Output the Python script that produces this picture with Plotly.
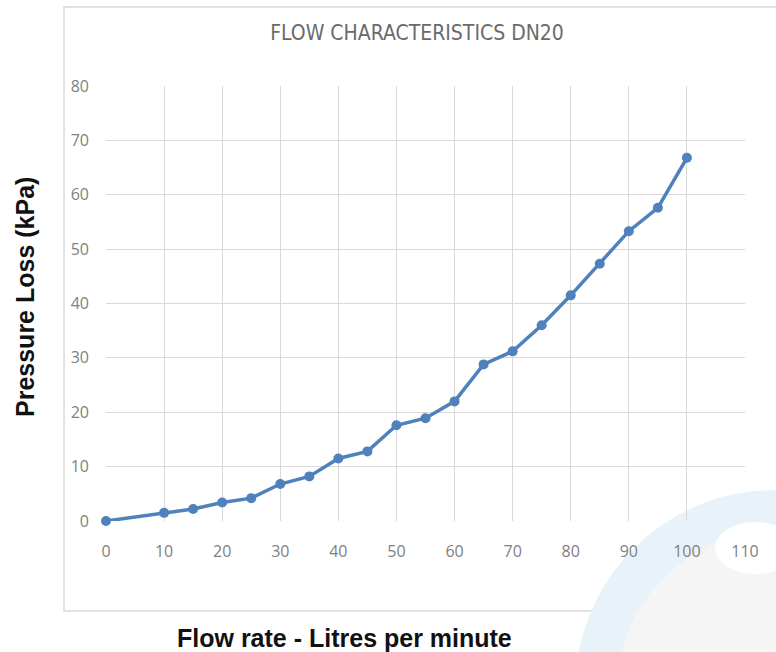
import plotly.graph_objects as go

flow = [0, 10, 15, 20, 25, 30, 35, 40, 45, 50, 55, 60, 65, 70, 75, 80, 85, 90, 95, 100]
pressure = [0, 1.5, 2.2, 3.4, 4.2, 6.8, 8.2, 11.5, 12.8, 17.6, 18.9, 22.0, 28.8, 31.2, 36.0, 41.5, 47.3, 53.3, 57.6, 66.8]
x_ticks = list(range(0, 111, 10))
y_ticks = list(range(0, 81, 10))

W, H = 776, 652
L, R, T, B = 106, 745, 86, 521

def px(x):
    return (x - L) / (R - L)

def py(y):
    return (B - y) / (B - T)

fig = go.Figure()
fig.add_trace(go.Scatter(
    x=flow, y=pressure, mode="lines+markers",
    line=dict(color="#4F81BD", width=3.5),
    marker=dict(color="#4F81BD", size=10),
    cliponaxis=False,
    showlegend=False,
))

shapes = [
    dict(type="rect", xref="paper", yref="paper", x0=px(64), x1=px(790), y0=py(611), y1=py(7),
         line=dict(color="#d9d9d9", width=1.5), fillcolor="rgba(0,0,0,0)", layer="below"),
    dict(type="circle", xref="paper", yref="paper", x0=px(775 - 200), x1=px(775 + 200),
         y0=py(690 + 200), y1=py(690 - 200), line=dict(width=0), fillcolor="#e8f3f9", layer="below"),
    dict(type="circle", xref="paper", yref="paper", x0=px(775 - 158), x1=px(775 + 158),
         y0=py(690 + 158), y1=py(690 - 158), line=dict(width=0), fillcolor="#f5f5f5", layer="below"),
    dict(type="circle", xref="paper", yref="paper", x0=px(755 - 40), x1=px(755 + 40),
         y0=py(548 + 26), y1=py(548 - 26), line=dict(width=0), fillcolor="#ffffff", layer="below"),
]

fig.update_layout(
    width=W, height=H,
    margin=dict(l=L, r=W - R, t=T, b=H - B, autoexpand=False),
    paper_bgcolor="white", plot_bgcolor="rgba(0,0,0,0)",
    title=dict(text="FLOW CHARACTERISTICS DN20", xref="container", x=417 / W, xanchor="center",
               yref="container", y=1 - 33 / H, yanchor="middle",
               font=dict(family="DejaVu Sans Condensed, Open Sans", size=21, color="#6a6a6a")),
    shapes=shapes,
    annotations=[
        dict(text="<b>Flow rate - Litres per minute</b>", xref="paper", yref="paper",
             x=px(344), y=py(638), xanchor="center", yanchor="middle", showarrow=False,
             font=dict(family="Liberation Sans, Arial", size=25, color="#111111")),
        dict(text="<b>Pressure Loss (kPa)</b>", xref="paper", yref="paper",
             x=px(25), y=py(297), xanchor="center", yanchor="middle", showarrow=False, textangle=-90,
             font=dict(family="Liberation Sans, Arial", size=25, color="#111111")),
    ],
    xaxis=dict(range=[0, 110], tickvals=x_ticks, showgrid=True, gridcolor="#d9d9d9", gridwidth=1,
               zeroline=False, showline=False, ticks="", ticklabelstandoff=19,
               tickfont=dict(family="Open Sans, Liberation Sans", size=16, color="#808080")),
    yaxis=dict(range=[0, 80], tickvals=y_ticks, showgrid=True, gridcolor="#d9d9d9", gridwidth=1,
               zeroline=False, showline=False, ticks="", ticklabelstandoff=16,
               tickfont=dict(family="Open Sans, Liberation Sans", size=16, color="#808080")),
)

fig.write_html("out.html", config={"displayModeBar": False},
               post_script="document.body.style.margin='0';document.body.style.overflow='hidden';")
